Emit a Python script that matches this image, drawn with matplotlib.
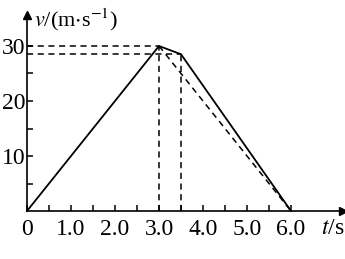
import matplotlib
matplotlib.use("Agg")
import matplotlib.pyplot as plt

plt.rcParams['font.family'] = ['Liberation Serif', 'DejaVu Serif']
plt.rcParams['mathtext.fontset'] = 'stix'

# datos
t_solido = [0, 3.0, 3.5, 6.0]
v_solido = [0, 30, 28.5, 0]
t_trazos = [3.0, 6.0]
v_trazos = [30, 0]
x_ticks = [0, 1.0, 2.0, 3.0, 4.0, 5.0, 6.0]
x_etiquetas = ["0", "1.0", "2.0", "3.0", "4.0", "5.0", "6.0"]
y_ticks = [10, 20, 30]
y_etiquetas = ["10", "20", "30"]

W, H = 345, 259
fig = plt.figure(figsize=(W / 100, H / 100), dpi=100)
# origen en (27, 211) px
ax = fig.add_axes([27 / W, (H - 211) / H, (343 - 27) / W, (211 - 15) / H])
ax.set_xlim(0, (343 - 27) / 44.0)
ax.set_ylim(0, (211 - 15) / 5.5)

ax.plot(t_solido, v_solido, color='black', lw=1.3, clip_on=False)
ax.plot(t_trazos, v_trazos, color='black', lw=1.1, ls=(0, (4, 3)))

# lineas auxiliares
for t, v in zip(t_solido[1:3], v_solido[1:3]):
    ax.plot([0, t_solido[2]] if v == v_solido[2] else [0, t], [v, v],
            color='black', lw=1.1, ls=(0, (4, 3)))
    ax.plot([t, t], [0, v], color='black', lw=1.1, ls=(0, (4, 3)))

for s in ['top', 'right']:
    ax.spines[s].set_visible(False)
for s in ['left', 'bottom']:
    ax.spines[s].set_linewidth(1.2)
ax.plot(1, 0, '>k', ms=6, transform=ax.get_yaxis_transform(), clip_on=False)
ax.plot(0, 1, '^k', ms=6, transform=ax.get_xaxis_transform(), clip_on=False)

ax.set_xticks(x_ticks)
ax.set_xticklabels(x_etiquetas)
ax.set_xticks([0.5 * i for i in range(1, 13)], minor=True)
ax.set_yticks(y_ticks)
ax.set_yticklabels(y_etiquetas)
ax.set_yticks([5, 15, 25], minor=True)
ax.tick_params(which='both', direction='in', length=4, width=1.1,
               labelsize=17)
ax.tick_params(axis='x', pad=6)
ax.tick_params(axis='y', pad=1)

fig.text(321 / W, 1 - 229 / H, r'$t$/s', fontsize=17, va='center', ha='left')
fig.text(34 / W, 1 - 20 / H, r'$v$/(m$\cdot$s$^{-1}$)', fontsize=16,
         va='center', ha='left')

fig.savefig("out.png", dpi=100)
